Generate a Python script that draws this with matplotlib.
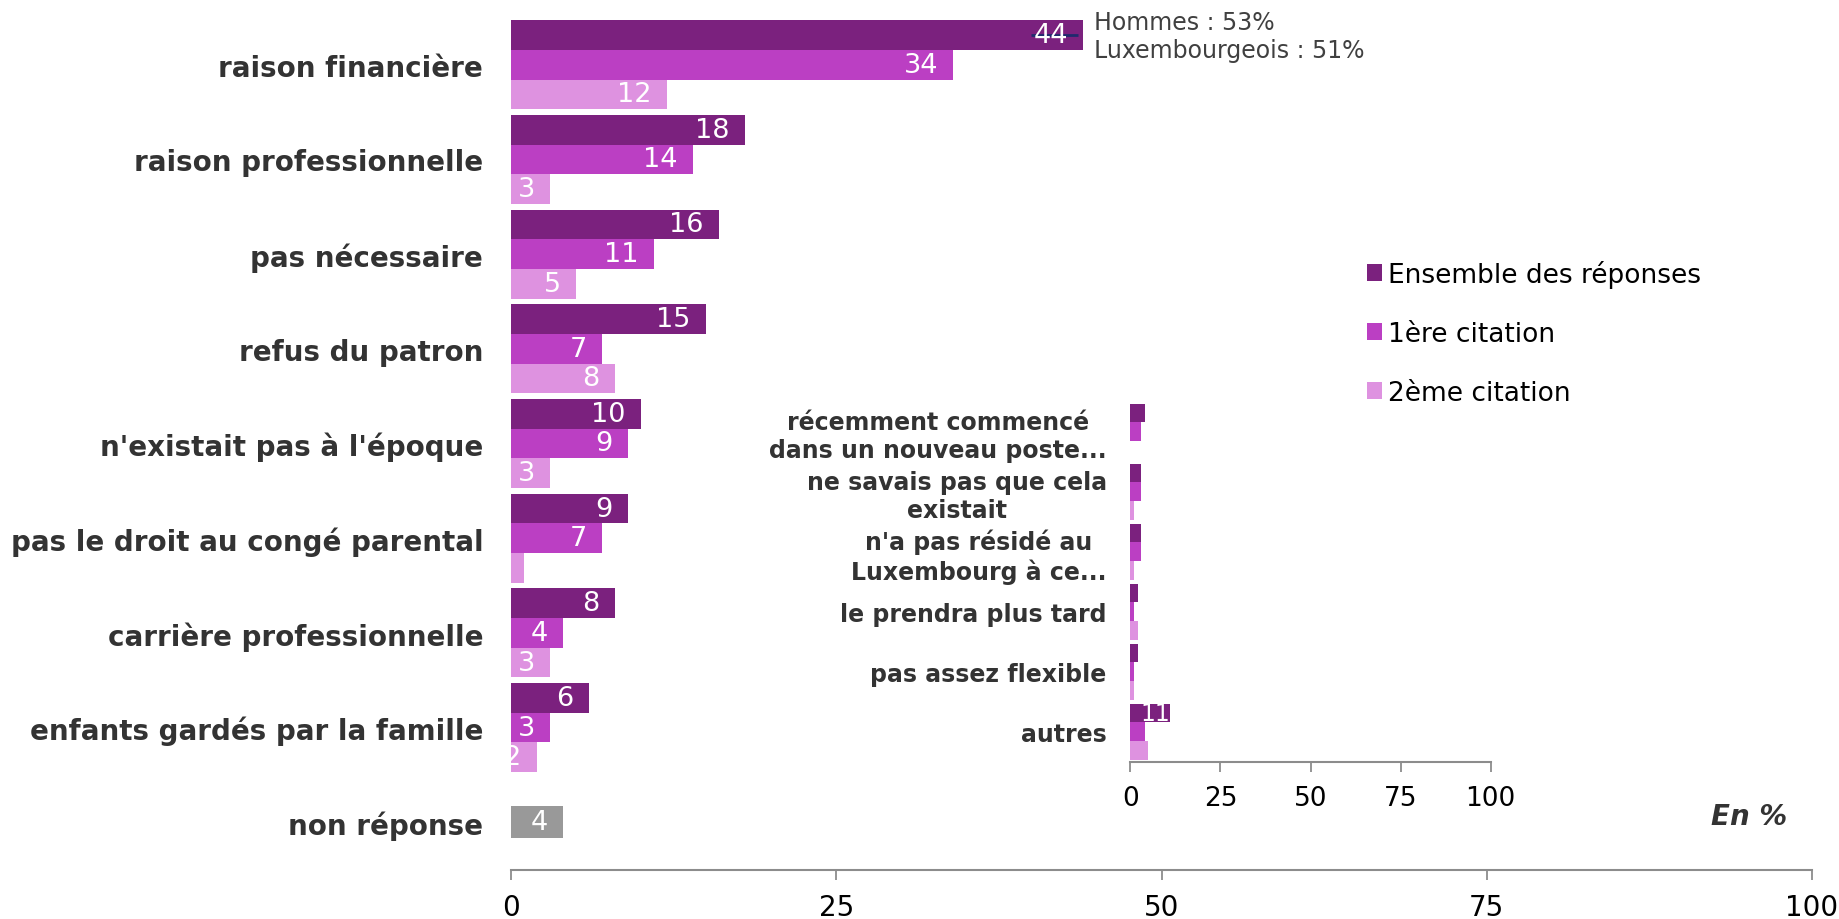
import numpy as np
import matplotlib
matplotlib.use("Agg")
import matplotlib.pyplot as plt
from matplotlib.patches import Patch

# main chart data
categories = ["raison financière", "raison professionnelle", "pas nécessaire",
              "refus du patron", "n'existait pas à l'époque",
              "pas le droit au congé parental", "carrière professionnelle",
              "enfants gardés par la famille"]
ensemble = [44, 18, 16, 15, 10, 9, 8, 6]
citation1 = [34, 14, 11, 7, 9, 7, 4, 3]
citation2 = [12, 3, 5, 8, 3, 1, 3, 2]
non_reponse = 4

# inset data
inset_categories = ["récemment commencé\ndans un nouveau poste...",
                    "ne savais pas que cela\nexistait",
                    "n'a pas résidé au\nLuxembourg à ce...",
                    "le prendra plus tard", "pas assez flexible", "autres"]
inset_ensemble = [4, 3, 3, 2, 2, 11]
inset_citation1 = [3, 3, 3, 1, 1, 4]
inset_citation2 = [0, 1, 1, 2, 1, 5]

series_names = ["Ensemble des réponses", "1ère citation", "2ème citation"]
colors = ["#7b217e", "#bb3fc3", "#de92e0"]
gray = "#999999"
label_color = "#333333"
axis_color = "#8c8c8c"

W, H = 1839, 920
fig = plt.figure(figsize=(W / 100, H / 100), dpi=100)


def style_axis(ax, tick_size):
    for s in ["left", "right", "top"]:
        ax.spines[s].set_visible(False)
    ax.spines["bottom"].set_color(axis_color)
    ax.spines["bottom"].set_linewidth(1.5)
    ax.tick_params(axis="x", colors=axis_color, length=7, width=1.3,
                   labelsize=tick_size, labelcolor="black", pad=10)
    ax.tick_params(axis="y", length=0)
    ax.set_xlim(0, 100)
    ax.set_xticks([0, 25, 50, 75, 100])


def draw_group(ax, values, y, h, min_label, fs, offset):
    for k, vals in enumerate(values):
        yy = y + (k - 1) * h
        ax.barh(yy, vals, height=h, color=colors[k], edgecolor="none")
        for v, yc in zip(vals, yy):
            if v >= min_label:
                ax.annotate(str(v), (v, yc), xytext=(offset, 0),
                            textcoords="offset points", ha="right",
                            va="center", color="white", fontsize=fs)


# main axes
ax = fig.add_axes([511 / W, 1 - 870.6 / H, 1301 / W, 852.2 / H])
y = np.arange(len(categories))
h = 0.313
draw_group(ax, [ensemble, citation1, citation2], y, h, 2, 19.5, -11)
ax.barh(len(categories), non_reponse, height=0.34, color=gray, edgecolor="none")
ax.annotate(str(non_reponse), (non_reponse, len(categories)), xytext=(-11, 0),
            textcoords="offset points", ha="right", va="center",
            color="white", fontsize=19.5)
ax.set_ylim(len(categories) + 0.5, -0.5)
ax.set_yticks(list(y) + [len(categories)])
ax.set_yticklabels(categories + ["non réponse"], fontsize=20,
                   fontweight="bold", color=label_color)
ax.tick_params(axis="y", pad=20)
style_axis(ax, 20)

# note on the first bar
y0 = y[0] - h
ax.plot([ensemble[0] - 4, ensemble[0] - 0.4], [y0, y0], color="#1f2a6e",
        lw=2, solid_capstyle="butt")
ax.text(ensemble[0] + 0.8, -0.30, "Hommes : 53%\nLuxembourgeois : 51%",
        ha="left", va="center", fontsize=17, color="#404040",
        linespacing=1.2, clip_on=False)

# inset axes
ax2 = fig.add_axes([1130.3 / W, 1 - 762.7 / H, 360.4 / W, 360 / H])
yi = np.arange(len(inset_categories))
hi = 0.311
draw_group(ax2, [inset_ensemble, inset_citation1, inset_citation2], yi, hi, 10, 17, 0)
ax2.set_ylim(len(inset_categories) - 0.5, -0.5)
ax2.set_yticks(yi)
ax2.set_yticklabels(inset_categories, fontsize=17, fontweight="bold",
                    color=label_color, multialignment="center")
ax2.tick_params(axis="y", pad=17)
style_axis(ax2, 19)
ax2.patch.set_alpha(0)

# legend
handles = [Patch(facecolor=c, edgecolor="none") for c in colors]
fig.legend(handles, series_names, loc="upper left",
           bbox_to_anchor=(1356 / W, 1 - 250 / H), frameon=False,
           fontsize=19, handlelength=0.6, handleheight=0.6,
           handletextpad=0.2, labelspacing=1.25, borderaxespad=0)

fig.text(1787 / W, 1 - 817 / H, "En %", ha="right", va="center",
         fontsize=20, fontweight="bold", fontstyle="italic", color=label_color)

fig.savefig("out.png", dpi=100)
